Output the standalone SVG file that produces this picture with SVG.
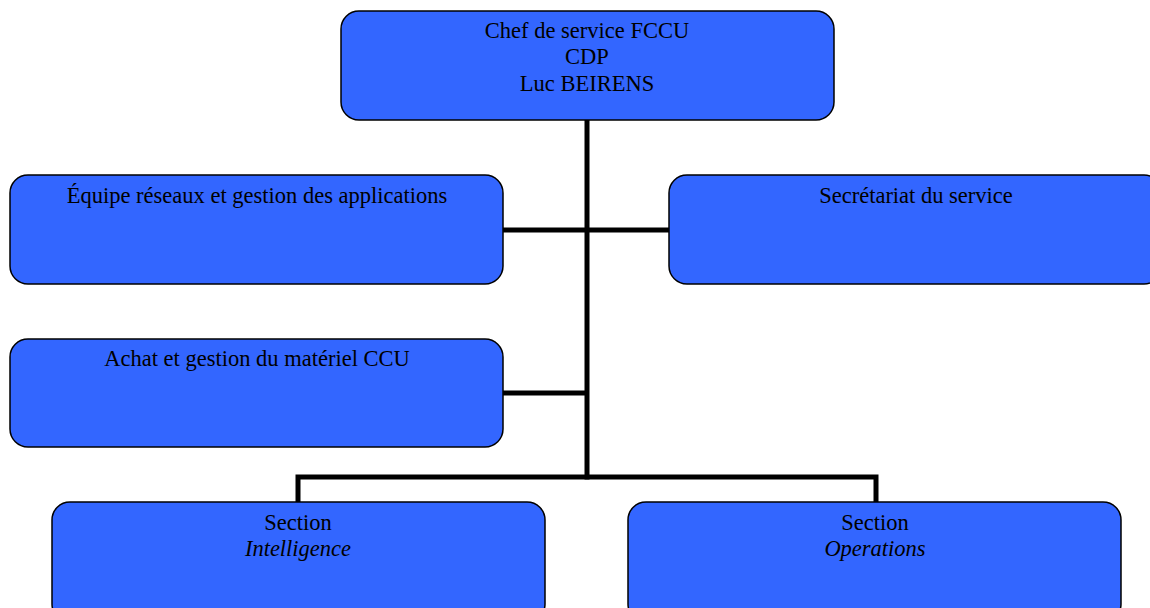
<svg xmlns="http://www.w3.org/2000/svg" width="1150" height="608" viewBox="0 0 1150 608">
<style>
.box{fill:#3366FF;stroke:#000;stroke-width:1.5}
.t{font-family:"Liberation Serif","Times New Roman",serif;font-size:22.5px;fill:#000;text-anchor:middle}
.i{font-style:italic}
.c{stroke:#000;stroke-width:5;fill:none}
</style>
<rect width="1150" height="608" fill="#fff"/>
<g id="connectors">
<line class="c" x1="587" y1="120" x2="587" y2="479.5"/>
<line class="c" x1="503" y1="230" x2="669" y2="230"/>
<line class="c" x1="503" y1="393" x2="587" y2="393"/>
<polyline class="c" points="298,502 298,477 876,477 876,502"/>
</g>
<g id="chef">
<rect class="box" x="341" y="11" width="493" height="109" rx="18"/>
<text class="t" x="587" y="38">Chef de service FCCU</text>
<text class="t" x="587" y="64">CDP</text>
<text class="t" x="587" y="91">Luc BEIRENS</text>
</g>
<g id="equipe">
<rect class="box" x="10" y="175" width="493" height="109" rx="18"/>
<text class="t" x="257" y="203">Équipe réseaux et gestion des applications</text>
</g>
<g id="secretariat">
<rect class="box" x="669" y="175" width="493" height="109" rx="18"/>
<text class="t" x="916" y="203">Secrétariat du service</text>
</g>
<g id="achat">
<rect class="box" x="10" y="339" width="493" height="108" rx="18"/>
<text class="t" x="257" y="366">Achat et gestion du matériel CCU</text>
</g>
<g id="intelligence">
<rect class="box" x="52" y="502" width="493" height="120" rx="18"/>
<text class="t" x="298" y="530">Section</text>
<text class="t i" x="298" y="556">Intelligence</text>
</g>
<g id="operations">
<rect class="box" x="628" y="502" width="493" height="120" rx="18"/>
<text class="t" x="875" y="530">Section</text>
<text class="t i" x="875" y="556">Operations</text>
</g>
</svg>
